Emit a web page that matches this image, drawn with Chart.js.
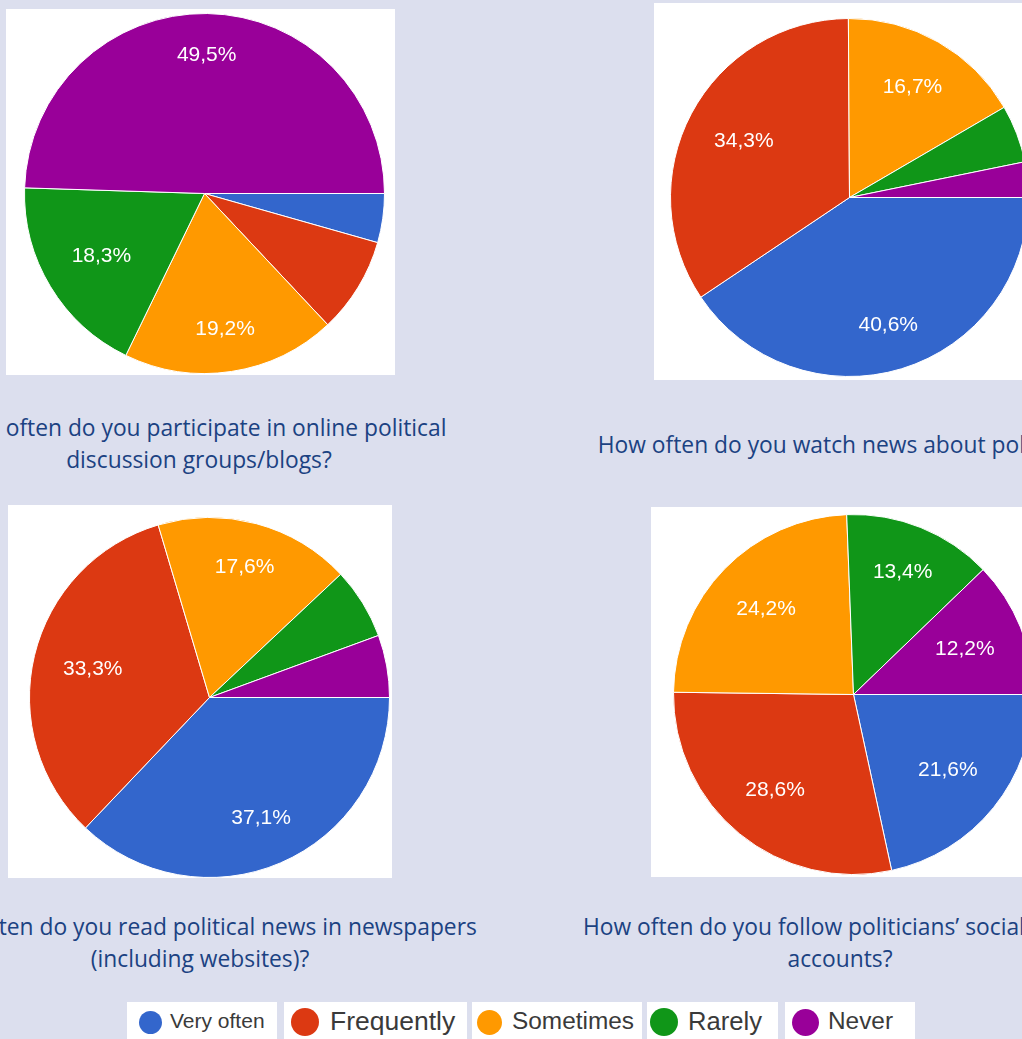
<!DOCTYPE html>
<html>
<head>
<meta charset="utf-8">
<script src="https://cdn.jsdelivr.net/npm/chart.js@4"></script>
<style>
  html, body { margin: 0; padding: 0; }
  body { width: 1022px; height: 1039px; overflow: hidden; position: relative; background: #dcdfee; }
  .box { position: absolute; background: #fff; }
  .pie { position: absolute; }
  .cap { position: absolute; width: 800px; font-family: 'Open Sans', sans-serif; font-size: 22.8px; line-height: 32px;
         color: #1b4282; text-align: center; white-space: nowrap; }
  .leg { position: absolute; background: #fff; overflow: hidden; font-family: 'Liberation Sans', Arial, sans-serif; color: #3a3a3a; }
  .leg span { position: absolute; white-space: nowrap; }
  .dot { position: absolute; border-radius: 50%; }
</style>
</head>
<body>
<script>
const categories = ['Very often', 'Frequently', 'Sometimes', 'Rarely', 'Never'];
const colors = ['#3366cc', '#dc3912', '#ff9900', '#109618', '#990099'];

// percent of answers per question
const participateBlogs = [4.4, 8.6, 19.2, 18.3, 49.5];
const watchNews = [40.6, 34.3, 16.7, 5.2, 3.2];
const readNewspapers = [37.1, 33.3, 17.6, 6.4, 5.6];
const followSocial = [21.6, 28.6, 24.2, 13.4, 12.2];

const questions = [
  ['How often do you participate in online political', 'discussion groups/blogs?'],
  ['How often do you watch news about politics?'],
  ['How often do you read political news in newspapers', '(including websites)?'],
  ['How often do you follow politicians\u2019 social media', 'accounts?']
];

// layout of the four panels: white box, pie centre/radius, caption
const panels = [
  { data: participateBlogs, box: [6, 9, 389, 366], cx: 204, cy: 193, r: 180, capX: 199, capY: 412 },
  { data: watchNews,        box: [654, 3, 380, 377], cx: 849, cy: 197, r: 179, capX: 837, capY: 429 },
  { data: readNewspapers,   box: [8, 505, 384, 373], cx: 209, cy: 697, r: 180, capX: 200, capY: 911 },
  { data: followSocial,     box: [651, 507, 380, 370], cx: 853, cy: 694, r: 180, capX: 840, capY: 911 }
];

// legend boxes: left, right, dot centre, dot size, text left, font size
const legendLayout = [
  [127, 277, 150, 23, 170, 21],
  [284, 467, 305, 28, 330, 26.5],
  [472, 642, 489, 25, 512, 24.4],
  [647, 778, 664, 28, 688, 25.6],
  [785, 915, 805, 27, 828, 24.4]
];

function fmt(v) {
  return v.toFixed(1).replace('.', ',') + '%';
}

// white percentage text inside the bigger slices
const sliceLabels = {
  id: 'sliceLabels',
  afterDatasetsDraw(chart) {
    const ctx = chart.ctx;
    const values = chart.data.datasets[0].data;
    const meta = chart.getDatasetMeta(0);
    ctx.save();
    ctx.font = '21px "Liberation Sans", Arial, sans-serif';
    ctx.fillStyle = '#ffffff';
    ctx.textAlign = 'center';
    ctx.textBaseline = 'middle';
    meta.data.forEach((arc, i) => {
      if (values[i] < 10) return;
      const p = arc.getProps(['x', 'y', 'startAngle', 'endAngle', 'outerRadius']);
      const mid = (p.startAngle + p.endAngle) / 2;
      const dist = p.outerRadius * (0.667 + 0.1 * Math.pow(Math.abs(Math.sin(mid)), 6));
      ctx.fillText(fmt(values[i]), p.x + Math.cos(mid) * dist, p.y + Math.sin(mid) * dist);
    });
    ctx.restore();
  }
};

panels.forEach((pn, k) => {
  const box = document.createElement('div');
  box.className = 'box';
  box.style.left = pn.box[0] + 'px';
  box.style.top = pn.box[1] + 'px';
  box.style.width = pn.box[2] + 'px';
  box.style.height = pn.box[3] + 'px';
  document.body.appendChild(box);

  const size = 2 * pn.r + 1;
  const canvas = document.createElement('canvas');
  canvas.className = 'pie';
  canvas.width = size;
  canvas.height = size;
  canvas.style.left = (pn.cx - size / 2) + 'px';
  canvas.style.top = (pn.cy - size / 2) + 'px';
  document.body.appendChild(canvas);

  new Chart(canvas.getContext('2d'), {
    type: 'pie',
    data: {
      labels: categories,
      datasets: [{
        data: pn.data,
        backgroundColor: colors,
        borderColor: '#ffffff',
        borderWidth: 1
      }]
    },
    options: {
      responsive: false,
      animation: false,
      rotation: 90,
      layout: { padding: 0 },
      plugins: {
        legend: { display: false },
        tooltip: { enabled: false }
      }
    },
    plugins: [sliceLabels]
  });

  const cap = document.createElement('div');
  cap.className = 'cap';
  cap.style.left = (pn.capX - 400) + 'px';
  cap.style.top = pn.capY + 'px';
  cap.innerHTML = questions[k].join('<br>');
  document.body.appendChild(cap);
});

categories.forEach((name, i) => {
  const [l, r, dotX, dotD, textX, fs] = legendLayout[i];
  const item = document.createElement('div');
  item.className = 'leg';
  item.style.left = l + 'px';
  item.style.top = '1002px';
  item.style.width = (r - l) + 'px';
  item.style.height = '40px';
  const dot = document.createElement('div');
  dot.className = 'dot';
  dot.style.background = colors[i];
  dot.style.width = dotD + 'px';
  dot.style.height = dotD + 'px';
  dot.style.left = (dotX - l - dotD / 2) + 'px';
  dot.style.top = (20 - dotD / 2) + 'px';
  const txt = document.createElement('span');
  txt.textContent = name;
  txt.style.left = (textX - l) + 'px';
  txt.style.fontSize = fs + 'px';
  txt.style.lineHeight = '40px';
  txt.style.top = '-1px';
  item.appendChild(dot);
  item.appendChild(txt);
  document.body.appendChild(item);
});
</script>
</body>
</html>
